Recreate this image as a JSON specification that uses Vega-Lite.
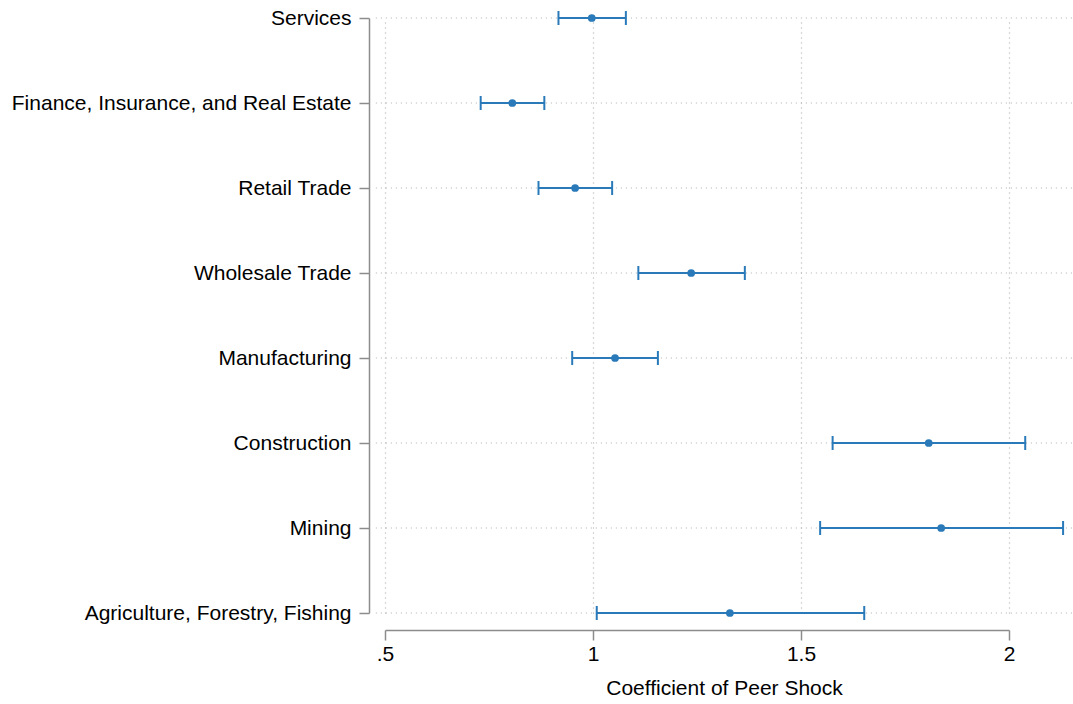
{
  "$schema": "https://vega.github.io/schema/vega-lite/v6.json",
  "width": 624,
  "height": 595,
  "autosize": {"type": "none"},
  "padding": {"left": 385, "top": 18, "right": 64, "bottom": 91},
  "background": "white",
  "config": {"view": {"stroke": null}, "font": "Liberation Sans"},
  "data": {
    "values": [
      {"sector": "Services", "lo": 0.917, "coef": 0.997, "hi": 1.079},
      {"sector": "Finance, Insurance, and Real Estate", "lo": 0.730, "coef": 0.806, "hi": 0.883},
      {"sector": "Retail Trade", "lo": 0.869, "coef": 0.957, "hi": 1.046},
      {"sector": "Wholesale Trade", "lo": 1.109, "coef": 1.236, "hi": 1.365},
      {"sector": "Manufacturing", "lo": 0.950, "coef": 1.053, "hi": 1.156},
      {"sector": "Construction", "lo": 1.576, "coef": 1.807, "hi": 2.039},
      {"sector": "Mining", "lo": 1.546, "coef": 1.837, "hi": 2.130},
      {"sector": "Agriculture, Forestry, Fishing", "lo": 1.009, "coef": 1.329, "hi": 1.652}
    ]
  },
  "encoding": {
    "y": {
      "field": "sector",
      "type": "nominal",
      "sort": null,
      "scale": {"type": "point", "padding": 0},
      "axis": {
        "title": null,
        "offset": 16,
        "grid": false,
        "domainColor": "#8c8c8c",
        "domainWidth": 1.5,
        "tickColor": "#8c8c8c",
        "tickWidth": 1.5,
        "tickSize": 10,
        "labelFontSize": 21,
        "labelColor": "#000000",
        "labelPadding": 8,
        "labelLimit": 500
      }
    }
  },
  "layer": [
    {
      "mark": {"type": "rule", "color": "#b0b0b0", "strokeDash": [1, 4], "strokeWidth": 1.2},
      "encoding": {
        "x": {"datum": 0.478, "type": "quantitative"},
        "x2": {"datum": 2.16}
      }
    },
    {
      "mark": {"type": "rule", "color": "#2a7ab9", "strokeWidth": 2},
      "encoding": {
        "x": {
          "field": "lo",
          "type": "quantitative",
          "scale": {"domain": [0.5, 2], "nice": false, "zero": false},
          "axis": {
            "values": [0.5, 1, 1.5, 2],
            "labelExpr": "datum.value == 0.5 ? '.5' : toString(datum.value)",
            "offset": 17,
            "title": "Coefficient of Peer Shock",
            "titleFontSize": 21,
            "titleFontWeight": "normal",
            "titleColor": "#000000",
            "titlePadding": 13,
            "titleX": 339,
            "titleAnchor": "middle",
            "domainColor": "#8c8c8c",
            "domainWidth": 1.5,
            "tickColor": "#8c8c8c",
            "tickWidth": 1.5,
            "tickSize": 10,
            "labelFontSize": 21,
            "labelColor": "#000000",
            "labelPadding": 3,
            "labelFlush": false,
            "grid": true,
            "gridColor": "#b0b0b0",
            "gridDash": [1, 4],
            "gridWidth": 1.2
          }
        },
        "x2": {"field": "hi"}
      }
    },
    {
      "mark": {"type": "tick", "orient": "vertical", "color": "#2a7ab9", "thickness": 2, "size": 14, "opacity": 1},
      "encoding": {"x": {"field": "lo", "type": "quantitative"}}
    },
    {
      "mark": {"type": "tick", "orient": "vertical", "color": "#2a7ab9", "thickness": 2, "size": 14, "opacity": 1},
      "encoding": {"x": {"field": "hi", "type": "quantitative"}}
    },
    {
      "mark": {"type": "circle", "color": "#2a7ab9", "size": 60, "opacity": 1},
      "encoding": {"x": {"field": "coef", "type": "quantitative"}}
    }
  ]
}
